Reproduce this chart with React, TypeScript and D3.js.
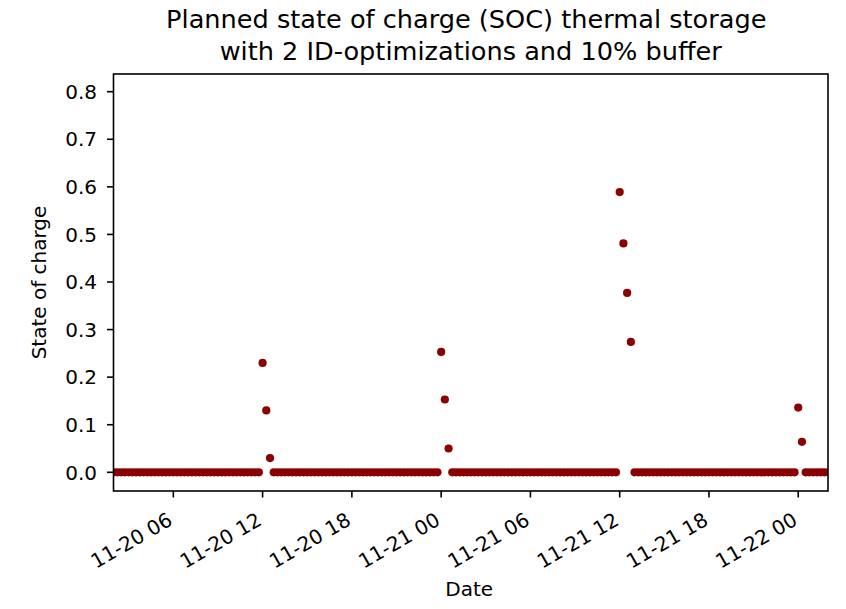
import React from "react";
import * as d3 from "d3";

// ---- data ----
const TITLE_LINES = [
  "Planned state of charge (SOC) thermal storage",
  "with 2 ID-optimizations and 10% buffer",
];
const X_LABEL = "Date";
const Y_LABEL = "State of charge";

// 15-minute time steps from 2021-11-20 02:00 to 2021-11-22 02:00
const START = new Date(2021, 10, 20, 2, 0);
const END = new Date(2021, 10, 22, 2, 0);
const TIMES: Date[] = d3.timeMinute.every(15)!.range(START, new Date(+END + 1));

// state of charge values, one per 15-minute step (16 per row = 4 hours)
const SOC: number[] = [
  0, 0, 0, 0, 0, 0, 0, 0, 0, 0, 0, 0, 0, 0, 0, 0, // 11-20 02:00
  0, 0, 0, 0, 0, 0, 0, 0, 0, 0, 0, 0, 0, 0, 0, 0, // 06:00
  0, 0, 0, 0, 0, 0, 0, 0, 0.23, 0.13, 0.03, 0, 0, 0, 0, 0, // 10:00
  0, 0, 0, 0, 0, 0, 0, 0, 0, 0, 0, 0, 0, 0, 0, 0, // 14:00
  0, 0, 0, 0, 0, 0, 0, 0, 0, 0, 0, 0, 0, 0, 0, 0, // 18:00
  0, 0, 0, 0, 0, 0, 0, 0, 0.253, 0.153, 0.05, 0, 0, 0, 0, 0, // 22:00
  0, 0, 0, 0, 0, 0, 0, 0, 0, 0, 0, 0, 0, 0, 0, 0, // 11-21 02:00
  0, 0, 0, 0, 0, 0, 0, 0, 0, 0, 0, 0, 0, 0, 0, 0, // 06:00
  0, 0, 0, 0, 0, 0, 0, 0, 0.589, 0.481, 0.377, 0.274, 0, 0, 0, 0, // 10:00
  0, 0, 0, 0, 0, 0, 0, 0, 0, 0, 0, 0, 0, 0, 0, 0, // 14:00
  0, 0, 0, 0, 0, 0, 0, 0, 0, 0, 0, 0, 0, 0, 0, 0, // 18:00
  0, 0, 0, 0, 0, 0, 0, 0, 0.136, 0.064, 0, 0, 0, 0, 0, 0, // 22:00
  0, // 11-22 02:00
];

const X_TICKS: Date[] = [
  new Date(2021, 10, 20, 6),
  new Date(2021, 10, 20, 12),
  new Date(2021, 10, 20, 18),
  new Date(2021, 10, 21, 0),
  new Date(2021, 10, 21, 6),
  new Date(2021, 10, 21, 12),
  new Date(2021, 10, 21, 18),
  new Date(2021, 10, 22, 0),
];
const Y_TICKS = [0, 0.1, 0.2, 0.3, 0.4, 0.5, 0.6, 0.7, 0.8];
const Y_DOMAIN: [number, number] = [-0.0393, 0.8372];

// ---- layout ----
const W = 846;
const H = 609;
const L = 113.5;
const R = 828;
const T = 74;
const B = 491;
const FONT = "'DejaVu Sans', sans-serif";
const DOT = "#8b0000";
const INK = "#000";
const TITLE_LINE_SHIFT = [-4.5, 0];

export default function App() {
  const x = d3.scaleTime().domain([START, END]).range([L + 0.3, R]);
  const y = d3.scaleLinear().domain(Y_DOMAIN).range([B, T]);
  const fmtX = d3.timeFormat("%m-%d %H");
  const fmtY = d3.format(".1f");
  const tickLen = 6.5;

  return (
    <svg
      width={W}
      height={H}
      style={{ position: "absolute", left: 0, top: 0, background: "#fff" }}
      fontFamily={FONT}
    >
      <defs>
        <clipPath id="plotclip">
          <rect x={L} y={T} width={R - L} height={B - T} />
        </clipPath>
      </defs>

      {/* title */}
      {TITLE_LINES.map((t, i) => (
        <text
          key={i}
          x={(L + R) / 2 + TITLE_LINE_SHIFT[i]}
          y={28 + i * 31.5}
          textAnchor="middle"
          fontSize={25.6}
          fill={INK}
        >
          {t}
        </text>
      ))}

      {/* points */}
      <g clipPath="url(#plotclip)">
        {SOC.map((v, i) => (
          <circle key={i} cx={x(TIMES[i])} cy={y(v)} r={4.1} fill={DOT} />
        ))}
      </g>

      {/* frame */}
      <rect
        x={L}
        y={T}
        width={R - L}
        height={B - T}
        fill="none"
        stroke={INK}
        strokeWidth={1.6}
      />

      {/* y axis */}
      {Y_TICKS.map((v) => (
        <g key={v}>
          <line
            x1={L - tickLen}
            x2={L}
            y1={y(v)}
            y2={y(v)}
            stroke={INK}
            strokeWidth={1.6}
          />
          <text
            x={97}
            y={y(v)}
            dy="0.36em"
            textAnchor="end"
            fontSize={20}
            fill={INK}
          >
            {fmtY(v)}
          </text>
        </g>
      ))}

      {/* x axis */}
      {X_TICKS.map((d) => {
        const px = x(d);
        return (
          <g key={+d}>
            <line
              x1={px}
              x2={px}
              y1={B}
              y2={B + tickLen}
              stroke={INK}
              strokeWidth={1.6}
            />
            <text
              transform={`translate(${px + 0.5},${524}) rotate(-30)`}
              textAnchor="end"
              fontSize={20}
              fill={INK}
            >
              {fmtX(d)}
            </text>
          </g>
        );
      })}

      {/* axis labels */}
      <text
        x={(L + R) / 2 - 1.5}
        y={596}
        textAnchor="middle"
        fontSize={20}
        fill={INK}
      >
        {X_LABEL}
      </text>
      <text
        transform={`translate(46,${(T + B) / 2}) rotate(-90)`}
        textAnchor="middle"
        fontSize={20}
        fill={INK}
      >
        {Y_LABEL}
      </text>
    </svg>
  );
}
